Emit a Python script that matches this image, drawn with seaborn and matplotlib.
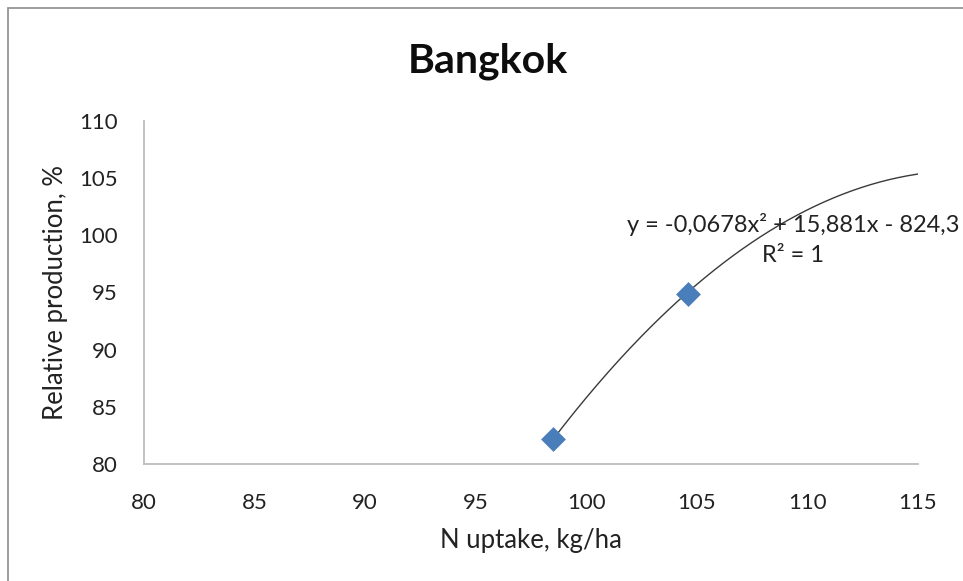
import numpy as np
import pandas as pd
import matplotlib
matplotlib.use("Agg")
import matplotlib.pyplot as plt
from matplotlib.patches import Rectangle
import seaborn as sns

# Measured points
n_uptake = [98.5, 104.6]
relative_production = [82.2, 94.9]

# Second-order polynomial trendline coefficients (a*x^2 + b*x + c)
coef_a, coef_b, coef_c = -0.0678, 15.881, -824.3
trend_x_end = 115

x_ticks = [80, 85, 90, 95, 100, 105, 110, 115]
y_ticks = [80, 85, 90, 95, 100, 105, 110]

sns.set_theme(style="white")
plt.rcParams["font.family"] = ["Lato", "DejaVu Sans"]

W, H = 963, 581
fig = plt.figure(figsize=(W / 100, H / 100), dpi=100)
fig.patch.set_facecolor("white")
# Outer chart frame
fig.patches.append(Rectangle((8 / W, -0.1), 1.2, 1 - 8 / H + 0.1,
                             transform=fig.transFigure, fill=False,
                             edgecolor="#8c8c8c", linewidth=1.2))

ax = fig.add_axes([144 / W, 1 - 464 / H, (918 - 144) / W, (464 - 121) / H])

points = pd.DataFrame({"x": n_uptake, "y": relative_production})
tx = np.linspace(min(n_uptake), trend_x_end, 200)
trend = pd.DataFrame({"x": tx, "y": coef_a * tx**2 + coef_b * tx + coef_c})

sns.lineplot(data=trend, x="x", y="y", ax=ax, color="#3a3a3a", linewidth=1.0)
sns.scatterplot(data=points, x="x", y="y", ax=ax, marker="D", s=160,
                color="#4a7ebb", edgecolor="#4a7ebb", linewidth=0, zorder=3)

ax.set_xlim(80, 115)
ax.set_ylim(80, 110)
ax.set_xticks(x_ticks)
ax.set_yticks(y_ticks)
ax.tick_params(axis="both", length=0, labelsize=16, colors="#222222")
ax.tick_params(axis="x", pad=21)
ax.tick_params(axis="y", pad=19)
for side in ("top", "right"):
    ax.spines[side].set_visible(False)
for side in ("left", "bottom"):
    ax.spines[side].set_color("#bdbdbd")
    ax.spines[side].set_linewidth(1.3)

ax.set_xlabel("N uptake, kg/ha", fontsize=18.5, color="#222222", labelpad=11)
ax.set_ylabel("Relative production, %", fontsize=18.5, color="#222222", labelpad=8)

fig.text(488 / W, 1 - 61 / H, "Bangkok", ha="center", va="center",
         fontsize=29.5, fontweight="bold", color="#0d0d0d")

fig.text(627 / W, 1 - 224 / H, "y = -0,0678x² + 15,881x - 824,3",
         fontsize=17, color="#222222", ha="left", va="center")
fig.text(793 / W, 1 - 255 / H, "R² = 1",
         fontsize=17, color="#222222", ha="center", va="center")

fig.savefig("out.png", dpi=100, facecolor="white")
